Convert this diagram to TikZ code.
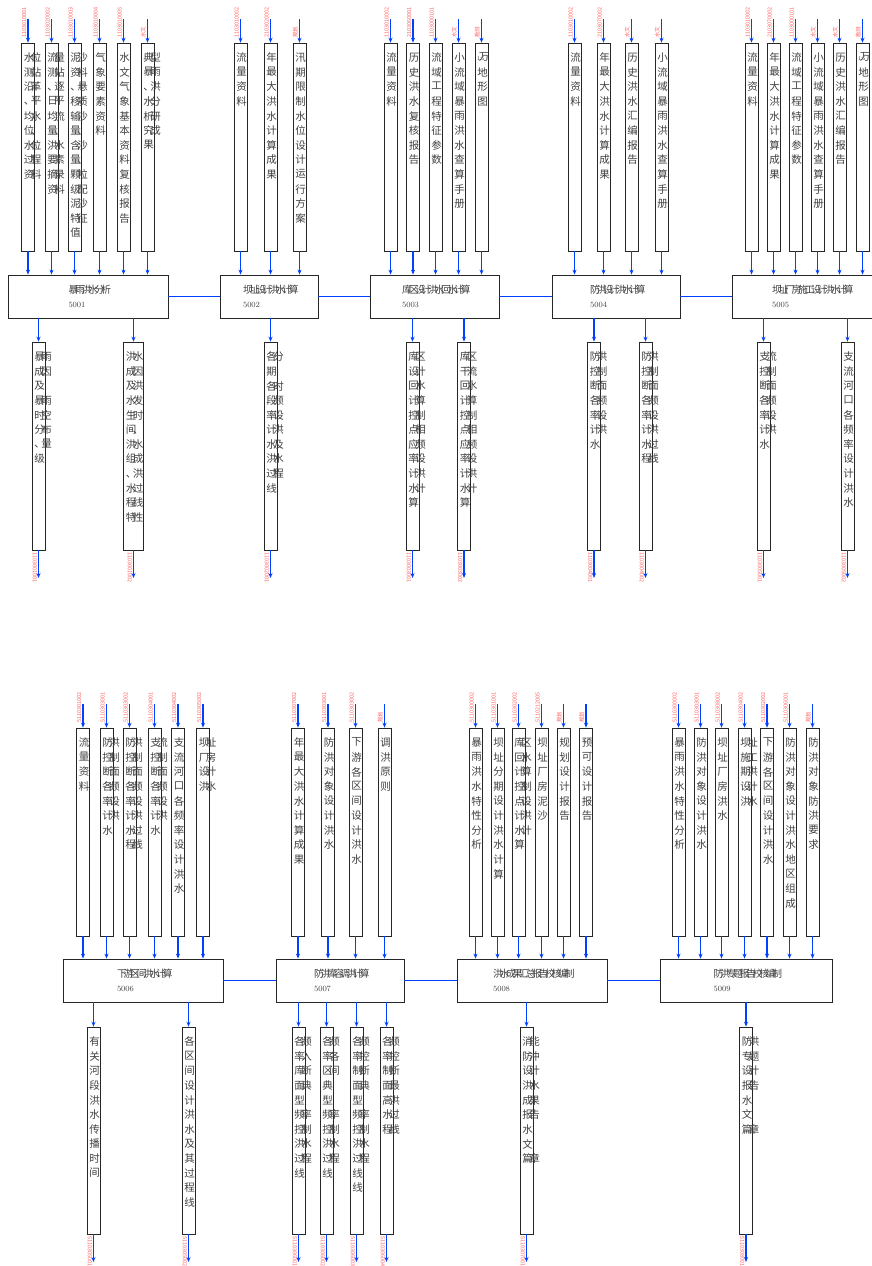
\documentclass[tikz,border=0pt]{standalone}
\usepackage{fontspec}
\newfontfamily\cjk{Noto Sans CJK SC}
\usetikzlibrary{arrows.meta,positioning}
\definecolor{flowblue}{RGB}{0,64,255}
\definecolor{codered}{RGB}{255,96,96}

% squeezed characters (overlapping glyphs as in the drawing)
\def\sqzk{-3.5pt}
\def\sqzstopmark{\relax}
\def\sqz#1{\def\sqzarg{#1}\ifx\sqzarg\sqzstopmark\else#1\kern\sqzk\expandafter\sqz\fi}
\newcommand{\procode}{\rmfamily\fontsize{8}{9}\selectfont}
\newcommand{\mapscale}{{\fontsize{5}{5}\selectfont 1:5}\kern-2pt}

% input column: name, x, top, bottom, rows, source code, process
\newcommand{\incol}[7]{%
  \node[colbox, minimum height={#4-#3}] (#1) at (#2,{(#3+#4)/2}) {};
  \coordinate (#1-src) at (#2,#3-24);
  \draw[arr] (#1-src) -- (#1);
  \draw[arr] (#1) -- (#1 |- #7.north);
  \node[codelabel, rotate=90, anchor=south west] at ([xshift=-1.5pt,yshift=5pt]#1.north) {#6};
  \foreach \r [count=\i] in {#5}
    \node[coltext] at ([xshift=2.5pt,yshift={-10-(\i-1)*14.6}]#1.north west) {\expandafter\sqz\r\relax};
}
% output column: name, x, top, bottom, rows, code, process, width
\newcommand{\outcol}[8]{%
  \node[colbox, minimum width=#8, minimum height={#4-#3}] (#1) at (#2,{(#3+#4)/2}) {};
  \draw[arr] (#7.south -| #1) -- (#1);
  \coordinate (#1-dst) at (#2,#4+28);
  \draw[arr] (#1) -- (#1-dst);
  \node[codelabel, rotate=-90, anchor=north west] at ([xshift=-1.5pt,yshift=-2pt]#1.south) {#6};
  \foreach \r [count=\i] in {#5}
    \node[coltext] at ([xshift=2.5pt,yshift={-10-(\i-1)*14.6}]#1.north west) {\expandafter\sqz\r\relax};
}

\begin{document}
\begin{tikzpicture}[x=1pt, y=-1pt,
  colbox/.style={draw=black!85, line width=0.6pt, minimum width=13, inner sep=0pt},
  coltext/.style={anchor=north west, inner sep=0pt, text=black!75, font=\cjk\fontsize{10.5}{12}\selectfont},
  procbox/.style={draw=black!85, line width=0.8pt, minimum height=43, align=left, inner sep=0pt, text=black!75, font=\cjk\fontsize{10}{14}\selectfont},
  codelabel/.style={inner sep=0pt, text=codered, font=\cjk\fontsize{5.5}{6}\selectfont},
  arr/.style={flowblue, line width=1.2pt, -{Stealth[length=5pt,width=4pt]}},
  flowline/.style={flowblue, line width=1.8pt}
]
\useasboundingbox (0,0) rectangle (872,1266);

% processes, upper row
\node[procbox, minimum width=160] (p1) at (88,296.5) {\sqz 暴雨洪水分析\relax\\\procode 5001};
\node[procbox, minimum width=98] (p2) at (269,296.5) {\sqz 坝址设计洪水计算\relax\\\procode 5002};
\node[procbox, minimum width=129] (p3) at (434.5,296.5) {\sqz 库区设计洪水回水计算\relax\\\procode 5003};
\node[procbox, minimum width=128] (p4) at (616,296.5) {\sqz 防洪设计洪水计算\relax\\\procode 5004};
\node[procbox, minimum width=158] (p5) at (811,296.5) {\sqz 坝址厂房施工设计洪水计算\relax\\\procode 5005};
% processes, lower row
\node[procbox, minimum width=160] (p6) at (143,980.5) {\sqz 下游区间洪水计算\relax\\\procode 5006};
\node[procbox, minimum width=128] (p7) at (340,980.5) {\sqz 防洪库容调洪计算\relax\\\procode 5007};
\node[procbox, minimum width=150] (p8) at (532,980.5) {\sqz 洪水成果汇总报告校核编制\relax\\\procode 5008};
\node[procbox, minimum width=172] (p9) at (746,980.5) {\sqz 防洪专题报告校核编制\relax\\\procode 5009};

\draw[flowline] (p1) -- (p2);
\draw[flowline] (p2) -- (p3);
\draw[flowline] (p3) -- (p4);
\draw[flowline] (p4) -- (p5);
\draw[flowline] (p6) -- (p7);
\draw[flowline] (p7) -- (p8);
\draw[flowline] (p8) -- (p9);

% inputs of 5001
\incol{a1}{28}{43}{251}{水位,测站,沿革,、平,均水,位、,水位,过程,资料}{1103010001}{p1}
\incol{a2}{51.5}{43}{251}{流量,测站,、逐,日平,均流,量、,洪水,要素,摘录,资料}{1103020002}{p1}
\incol{a3}{74.5}{43}{251}{泥沙,资料,、悬,移质,输沙,量、,含沙,量、,颗粒,级配,泥沙,特征,值}{1103010003}{p1}
\incol{a4}{99.5}{43}{251}{气,象,要,素,资,料}{1103010004}{p1}
\incol{a5}{123.5}{43}{251}{水,文,气,象,基,本,资,料,复,核,报,告}{1103010005}{p1}
\incol{a6}{147.5}{43}{251}{典型,暴雨,、洪,水分,析研,究成,果}{水文}{p1}
% inputs of 5002
\incol{b1}{240.5}{43}{251}{流,量,资,料}{1103010002}{p2}
\incol{b2}{270.5}{43}{251}{年,最,大,洪,水,计,算,成,果}{2103020002}{p2}
\incol{b3}{299.5}{43}{251}{汛,期,限,制,水,位,设,计,运,行,方,案}{规划}{p2}
% inputs of 5003
\incol{c1}{390.5}{43}{251}{流,量,资,料}{1103010002}{p3}
\incol{c2}{413}{43}{251}{历,史,洪,水,复,核,报,告}{2103060001}{p3}
\incol{c3}{435.5}{43}{251}{流,域,工,程,特,征,参,数}{1103000101}{p3}
\incol{c4}{458.5}{43}{251}{小,流,域,暴,雨,洪,水,查,算,手,册}{水文}{p3}
\incol{c5}{481.5}{43}{251}{\mapscale 万,地,形,图}{勘测}{p3}
% inputs of 5004
\incol{d1}{574.5}{43}{251}{流,量,资,料}{1103010002}{p4}
\incol{d2}{603.5}{43}{251}{年,最,大,洪,水,计,算,成,果}{2103070002}{p4}
\incol{d3}{631.5}{43}{251}{历,史,洪,水,汇,编,报,告}{水文}{p4}
\incol{d4}{661.5}{43}{251}{小,流,域,暴,雨,洪,水,查,算,手,册}{水文}{p4}
% inputs of 5005
\incol{e1}{751.5}{43}{251}{流,量,资,料}{1103010002}{p5}
\incol{e2}{773.5}{43}{251}{年,最,大,洪,水,计,算,成,果}{2103070002}{p5}
\incol{e3}{795.5}{43}{251}{流,域,工,程,特,征,参,数}{1103000101}{p5}
\incol{e4}{817.5}{43}{251}{小,流,域,暴,雨,洪,水,查,算,手,册}{水文}{p5}
\incol{e5}{839.5}{43}{251}{历,史,洪,水,汇,编,报,告}{水文}{p5}
\incol{e6}{862.5}{43}{251}{\mapscale 万,地,形,图}{勘测}{p5}

% outputs, upper row
\outcol{q1}{38.5}{342}{550}{暴雨,成因,及,暴雨,时空,分布,、量,级}{1103001001}{p1}{13}
\outcol{q2}{133.5}{342}{550}{洪水,成因,及洪,水发,生时,间、,洪水,组成,、洪,水过,程线,特性}{1103001002}{p1}{20}
\outcol{q3}{270.5}{342}{550}{各分,期,各时,段频,率设,计洪,水及,洪水,过程,线}{1103002001}{p2}{13}
\outcol{q4}{412.5}{342}{550}{库区,设计,回水,计算,控制,点相,应频,率设,计洪,水计,算}{1103003001}{p3}{13}
\outcol{q5}{464}{342}{550}{库区,干流,回水,计算,控制,点相,应频,率设,计洪,水计,算}{1103003002}{p3}{13}
\outcol{q6}{594}{342}{550}{防洪,控制,断面,各频,率设,计洪,水}{1103004001}{p4}{13}
\outcol{q7}{645.5}{342}{550}{防洪,控制,断面,各频,率设,计洪,水过,程线}{1103004002}{p4}{13}
\outcol{q8}{763.5}{342}{550}{支流,控制,断面,各频,率设,计洪,水}{1103005001}{p5}{13}
\outcol{q9}{847.5}{342}{550}{支,流,河,口,各,频,率,设,计,洪,水}{1103005002}{p5}{13}

% inputs of 5006
\incol{f1}{83}{728}{936}{流,量,资,料}{5110301002}{p6}
\incol{f2}{106.5}{728}{936}{防洪,控制,断面,各频,率设,计洪,水}{5110303001}{p6}
\incol{f3}{129.5}{728}{936}{防洪,控制,断面,各频,率设,计洪,水过,程线}{5110303002}{p6}
\incol{f4}{154.5}{728}{936}{支流,控制,断面,各频,率设,计洪,水}{5110304001}{p6}
\incol{f5}{178}{728}{936}{支,流,河,口,各,频,率,设,计,洪,水}{5110304002}{p6}
\incol{f6}{203}{728}{936}{坝址,厂房,设计,洪水}{5110305002}{p6}
% inputs of 5007
\incol{g1}{298}{728}{936}{年,最,大,洪,水,计,算,成,果}{5110307002}{p7}
\incol{g2}{328}{728}{936}{防,洪,对,象,设,计,洪,水}{5110303001}{p7}
\incol{g3}{355.5}{728}{936}{下,游,各,区,间,设,计,洪,水}{5110303002}{p7}
\incol{g4}{384.5}{728}{936}{调,洪,原,则}{规划}{p7}
% inputs of 5008
\incol{h1}{475.5}{728}{936}{暴,雨,洪,水,特,性,分,析}{5110300002}{p8}
\incol{h2}{497.5}{728}{936}{坝,址,分,期,设,计,洪,水,计,算}{5110301001}{p8}
\incol{h3}{518.5}{728}{936}{库区,回水,计算,控制,点设,计洪,水计,算}{5110302002}{p8}
\incol{h4}{541.5}{728}{936}{坝,址,厂,房,泥,沙}{5110212005}{p8}
\incol{h5}{563.5}{728}{936}{规,划,设,计,报,告}{规划}{p8}
\incol{h6}{586}{728}{936}{预,可,设,计,报,告}{规划}{p8}
% inputs of 5009
\incol{k1}{678.5}{728}{936}{暴,雨,洪,水,特,性,分,析}{5110300002}{p9}
\incol{k2}{700.5}{728}{936}{防,洪,对,象,设,计,洪,水}{5110303001}{p9}
\incol{k3}{721.5}{728}{936}{坝,址,厂,房,洪,水}{5110308002}{p9}
\incol{k4}{744.5}{728}{936}{坝址,施工,期洪,设计,洪水}{5110304002}{p9}
\incol{k5}{767}{728}{936}{下,游,各,区,间,设,计,洪,水}{5110302002}{p9}
\incol{k6}{789.5}{728}{936}{防,洪,对,象,设,计,洪,水,地,区,组,成}{5110306001}{p9}
\incol{k7}{812.5}{728}{936}{防,洪,对,象,防,洪,要,求}{规划}{p9}

% outputs, lower row
\outcol{r1}{93.5}{1027}{1234}{有,关,河,段,洪,水,传,播,时,间}{5110305001}{p6}{13}
\outcol{r2}{188.5}{1027}{1234}{各,区,间,设,计,洪,水,及,其,过,程,线}{5110305002}{p6}{13}
\outcol{r3}{298.5}{1027}{1234}{各频,率入,库断,面典,型,频率,控制,洪水,过程,线}{5110306001}{p7}{13}
\outcol{r4}{326.5}{1027}{1234}{各频,率各,区间,典,型,频率,控制,洪水,过程,线}{5110306002}{p7}{13}
\outcol{r5}{356.5}{1027}{1234}{各频,率控,制断,面典,型,频率,控制,洪水,过程,线,线}{5110306003}{p7}{13}
\outcol{r6}{386.5}{1027}{1234}{各频,率控,制断,面最,高洪,水过,程线}{5110306004}{p7}{13}
\outcol{r7}{526.5}{1027}{1234}{消能,防冲,设计,洪水,成果,报告,水,文,篇章}{5110307001}{p8}{13}
\outcol{r8}{746}{1027}{1234}{防洪,专题,设计,报告,水,文,篇章}{5110308001}{p9}{13}
\end{tikzpicture}
\end{document}
